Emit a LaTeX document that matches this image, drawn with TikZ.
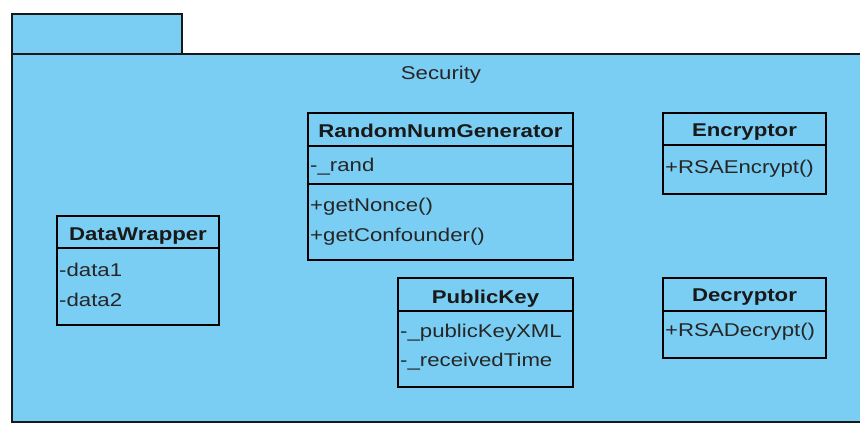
\documentclass[tikz,border=0pt]{standalone}
\usepackage{fontspec}
\setmainfont[FakeStretch=1.2]{Liberation Sans}
\definecolor{pkgblue}{RGB}{122,206,244}
\definecolor{edge}{RGB}{25,25,25}
\tikzset{
  pkgline/.style={draw=edge, line width=1.4pt, fill=pkgblue},
  clsbox/.style={draw=black, line width=1.3pt, fill=pkgblue},
  sepline/.style={draw=black, line width=1.3pt},
  ttl/.style={anchor=base, inner sep=0pt, font=\fontsize{18.5}{20}\selectfont\bfseries, text=black!90},
  mem/.style={anchor=base west, inner sep=0pt, font=\fontsize{18.5}{20}\selectfont, text=black!85},
  pkgname/.style={anchor=base, inner sep=0pt, font=\fontsize{18.5}{20}\selectfont, text=black!85}
}
\begin{document}
\begin{tikzpicture}[x=1pt,y=-1pt]
\useasboundingbox (0,0) rectangle (860,424);
\fill[white] (0,0) rectangle (860,424);
% package
\draw[pkgline] (12,14) rectangle (182,54);
\draw[pkgline] (866,54) -- (12,54) -- (12,422) -- (866,422);
\fill[pkgblue] (13,55) rectangle (866,421);
\node[pkgname] (security) at (441,79) {Security};
% RandomNumGenerator
\draw[clsbox] (308,113) rectangle (573,260);
\draw[sepline] (308,146) -- (573,146);
\draw[sepline] (308,184) -- (573,184);
\node[ttl] (rngT) at (440.5,137) {RandomNumGenerator};
\node[mem] (rngA) at (310,171) {-\_rand};
\node[mem] (rngM1) at (310,211) {+getNonce()};
\node[mem] (rngM2) at (310,241) {+getConfounder()};
% Encryptor
\draw[clsbox] (663,113) rectangle (826,194);
\draw[sepline] (663,145) -- (826,145);
\node[ttl] (encT) at (744.5,136) {Encryptor};
\node[mem] (encM) at (665,173) {+RSAEncrypt()};
% Decryptor
\draw[clsbox] (663,278) rectangle (826,358);
\draw[sepline] (663,311) -- (826,311);
\node[ttl] (decT) at (744.5,301) {Decryptor};
\node[mem] (decM) at (665,336) {+RSADecrypt()};
% DataWrapper
\draw[clsbox] (57,216) rectangle (219,325);
\draw[sepline] (57,248) -- (219,248);
\node[ttl] (dwT) at (138,240) {DataWrapper};
\node[mem] (dwA1) at (59,276) {-data1};
\node[mem] (dwA2) at (59,306) {-data2};
% PublicKey
\draw[clsbox] (398,278) rectangle (573,387);
\draw[sepline] (398,311) -- (573,311);
\node[ttl] (pkT) at (485.5,303) {PublicKey};
\node[mem] (pkA1) at (400,337) {-\_publicKeyXML};
\node[mem] (pkA2) at (400,366) {-\_receivedTime};
\end{tikzpicture}
\end{document}
